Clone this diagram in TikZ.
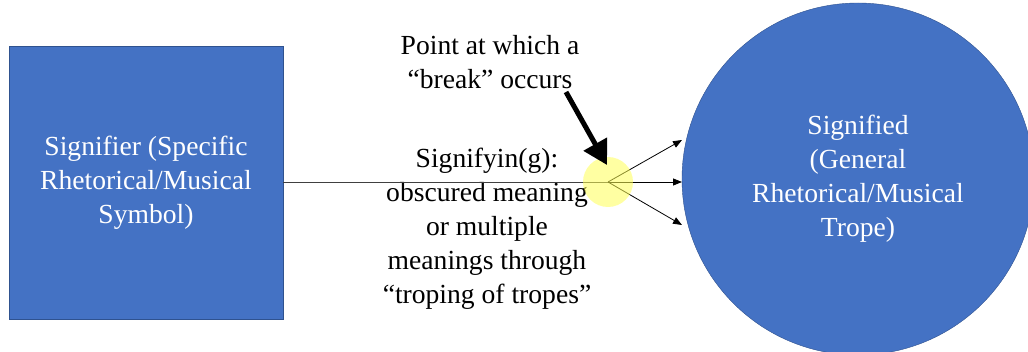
\documentclass[tikz,border=0pt]{standalone}
\usepackage{fontspec}
\setmainfont{LiberationSerif-Regular.ttf}
\usepackage{xcolor}
\usetikzlibrary{shapes.geometric, arrows.meta, positioning, calc}

\definecolor{symblue}{HTML}{4472C4}
\definecolor{symedge}{HTML}{2F528F}
\definecolor{breakyel}{HTML}{FFFF55}

\begin{document}
\begin{tikzpicture}[
  x=1pt, y=1pt,
  every node/.style={font=\fontsize{27.6}{34}\selectfont},
  symbox/.style={draw=symedge, fill=symblue, text=white, align=center,
                 minimum width=274pt, minimum height=273pt, inner sep=0pt},
  tropeball/.style={circle, draw=symedge, fill=symblue, text=white, align=center,
                    minimum size=352pt, inner sep=0pt},
  note/.style={align=center, inner sep=0pt},
  arr/.style={-{Triangle[length=9pt,width=7pt]}, line width=0.8pt},
  bigarr/.style={-{Triangle[length=24pt,width=26pt]}, line width=5pt}
]
\useasboundingbox (0,0) rectangle (1028,351);

\node[symbox] (signifier) at (146,168.5) {Signifier (Specific\\Rhetorical/Musical\\Symbol)};
\node[tropeball] (signified) at (858,172) {Signified\\(General\\Rhetorical/Musical\\Trope)};
\node[circle, minimum size=50pt, inner sep=0pt] (breakpt) at (608,169) {};

\node[note] (meaning) at (487,122) {Signifyin(g):\\obscured meaning\\or multiple\\meanings through\\“troping of tropes”};
\node[note] (breaknote) at (490,289) {Point at which a\\“break” occurs};

\coordinate (tipup) at (682,211);
\coordinate (tipmid) at (682,169);
\coordinate (tipdown) at (682,126);
\coordinate (bigtail) at (566,259);

% connectors
\draw[line width=0.8pt, black!75] (signifier.east |- breakpt.center) -- (breakpt.center);
\draw[arr] (breakpt.center) -- (tipup);
\draw[arr] (breakpt.center) -- (tipmid);
\draw[arr] (breakpt.center) -- (tipdown);

% the break point
\fill[breakyel, fill opacity=0.55] (breakpt.center) circle (25pt);

\draw[bigarr] (bigtail) -- ($(breakpt.center)+(-1,17)$);
\end{tikzpicture}
\end{document}
